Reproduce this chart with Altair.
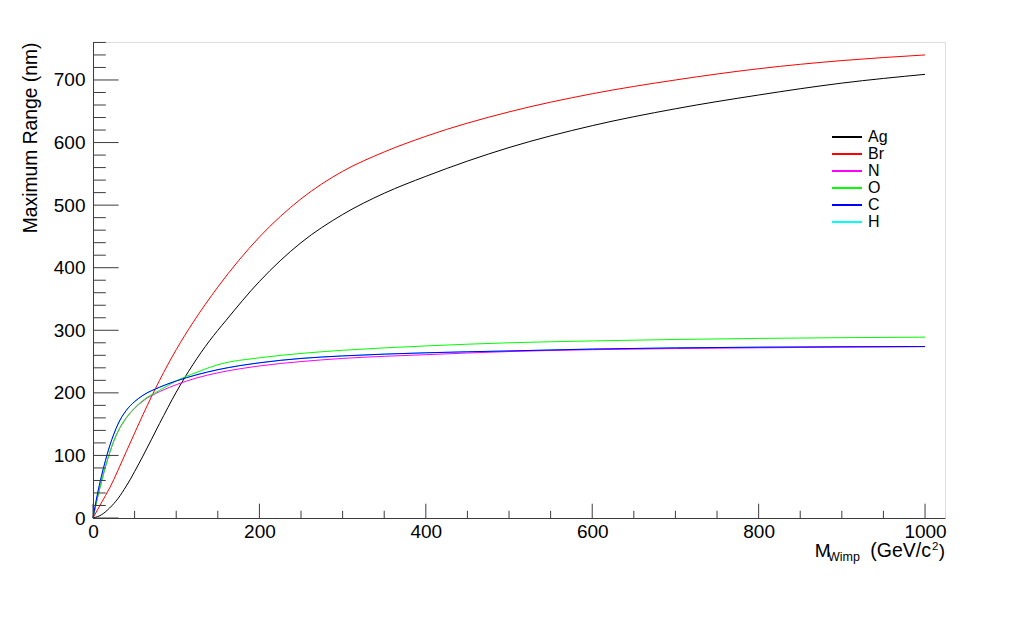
import altair as alt
import pandas as pd

FONT = "Liberation Sans"
series = ["Ag", "Br", "N", "O", "C", "H"]
colors = ["#000000", "#ff0000", "#ff00ff", "#00ff00", "#0000ff", "#00ffff"]

ag_x = [0, 10, 20, 30, 40, 60, 80, 100, 120, 140, 160, 200, 250, 300, 350, 400, 500, 600, 700, 800, 900, 1000]
ag_y = [0, 5, 16, 31, 51, 99, 151, 201, 245, 283, 316, 378, 440, 485, 519, 546, 592, 627, 654, 676, 695, 709]

br_x = [0, 10, 20, 40, 60, 80, 100, 120, 150, 200, 250, 300, 350, 400, 500, 600, 700, 800, 900, 1000]
br_y = [0, 24, 48, 106, 165, 220, 269, 312, 369, 449, 510, 554, 585, 610, 649, 678, 700, 718, 731, 740]

c_x = [0, 5, 10, 15, 20, 25, 30, 40, 50, 60, 80, 100, 125, 150, 200, 250, 300, 400, 500, 600, 800, 1000]
c_y = [0, 36, 66, 92, 115, 134, 150, 172, 186, 196, 209, 219, 229, 237, 248, 255, 259, 264, 267, 270, 273, 274]

o_x = [0, 5, 10, 15, 20, 25, 30, 40, 50, 60, 80, 100, 125, 150, 200, 250, 300, 400, 500, 600, 800, 1000]
o_y = [0, 30, 57, 82, 104, 123, 138, 160, 176, 188, 204, 219, 233, 245, 256, 263, 268, 275, 280, 283, 287, 289]

n_x = [0, 5, 10, 15, 20, 25, 30, 40, 50, 60, 80, 100, 125, 150, 200, 250, 300, 400, 500, 600, 800, 1000]
n_y = [0, 30, 57, 82, 104, 123, 138, 160, 175, 187, 202, 213, 224, 232, 243, 250, 255, 261, 266, 269, 272, 274]

h_x = [0, 5, 10, 15, 20, 25, 30, 40, 50, 60, 80, 100, 125, 150, 200, 250, 300, 400, 500, 600, 800, 1000]
h_y = [0, 36, 66, 92, 115, 134, 150, 172, 186, 196, 209, 219, 229, 237, 248, 255, 259, 264, 267, 270, 273, 274]

x_labels = [0, 200, 400, 600, 800, 1000]
x_minor = [50, 100, 150, 250, 300, 350, 450, 500, 550, 650, 700, 750, 850, 900, 950]
y_labels = [0, 100, 200, 300, 400, 500, 600, 700]
y_minor = [20, 40, 60, 80, 120, 140, 160, 180, 220, 240, 260, 280, 320, 340, 360, 380,
           420, 440, 460, 480, 520, 540, 560, 580, 620, 640, 660, 680, 720, 740, 760]

X_DOM = [0, 1024]
Y_DOM = [0, 760.7]
W, H = 852, 476
AX = "#3c3c3c"

rows = []
for name, xs, ys in [("Ag", ag_x, ag_y), ("Br", br_x, br_y), ("N", n_x, n_y),
                     ("O", o_x, o_y), ("C", c_x, c_y), ("H", h_x, h_y)]:
    for xv, yv in zip(xs, ys):
        rows.append({"name": name, "x": xv, "y": yv})
df = pd.DataFrame(rows)

xscale = alt.Scale(domain=X_DOM, nice=False, zero=False)
yscale = alt.Scale(domain=Y_DOM, nice=False, zero=False)
cscale = alt.Scale(domain=series, range=colors)

xaxis = alt.Axis(values=x_labels, ticks=False, tickSize=0, grid=False, domainColor=AX,
                 labelFont=FONT, labelFontSize=19, labelColor="black", labelPadding=4,
                 labelFlush=False, labelOverlap=False, title=None, format="d")
yaxis = alt.Axis(values=y_labels, ticks=False, tickSize=0, grid=False, domainColor=AX,
                 labelFont=FONT, labelFontSize=19, labelColor="black", labelPadding=8,
                 labelFlush=False, labelOverlap=False, format="d",
                 title="Maximum Range (nm)", titleFont=FONT, titleFontSize=19.3,
                 titleFontWeight="normal", titleColor="black", titleX=-72, titleY=0,
                 titleAlign="right", titleBaseline="top", titleAngle=270)

base = alt.Chart(df)
line_layers = []
for s in ["H", "Ag", "Br", "N", "O", "C"]:
    line_layers.append(
        base.transform_filter(alt.datum.name == s).mark_line(strokeWidth=1, interpolate="monotone").encode(
            x=alt.X("x:Q", scale=xscale, axis=xaxis),
            y=alt.Y("y:Q", scale=yscale, axis=yaxis),
            color=alt.Color("name:N", scale=cscale, legend=None),
        )
    )

def xticks(vals, length):
    return alt.Chart(pd.DataFrame({"v": vals})).mark_rule(color=AX, strokeWidth=1).encode(
        x=alt.X("v:Q", scale=xscale, axis=xaxis),
        y=alt.value(H), y2=alt.value(H - length))

def yticks(vals, length):
    return alt.Chart(pd.DataFrame({"v": vals})).mark_rule(color=AX, strokeWidth=1).encode(
        y=alt.Y("v:Q", scale=yscale, axis=yaxis),
        x=alt.value(0), x2=alt.value(length))

tick_layers = [xticks(x_labels, 14.3), xticks(x_minor, 7.2),
               yticks(y_labels, 25.6), yticks(y_minor, 12.8)]

main = alt.layer(*line_layers, *tick_layers)

leg_df = pd.DataFrame({"name": series, "row": list(range(len(series)))})
lscale = alt.Scale(domain=[0, len(series) - 1], range=[95, 180], nice=False, zero=False)
leg_lines = alt.Chart(leg_df).mark_rule(strokeWidth=2).encode(
    y=alt.Y("row:Q", scale=lscale, axis=None),
    x=alt.value(739), x2=alt.value(769),
    color=alt.Color("name:N", scale=cscale, legend=None))
leg_text = alt.Chart(leg_df).mark_text(align="left", baseline="middle", font=FONT,
                                       fontSize=16, color="black").encode(
    y=alt.Y("row:Q", scale=lscale, axis=None),
    x=alt.value(775), text="name:N")
legend = alt.layer(leg_lines, leg_text)

def piece(txt, xr, yb, size):
    return alt.Chart(pd.DataFrame({"t": [txt]})).mark_text(
        align="right", baseline="alphabetic", font=FONT, fontSize=size, color="black").encode(
        x=alt.value(xr), y=alt.value(yb), text="t:N")

xtitle = alt.layer(
    piece("M", 737.5, 515, 19),
    piece("Wimp", 767, 519, 12.5),
    piece("(GeV/c", 838, 515, 19.5),
    piece("2", 845.5, 507.5, 11.5),
    piece(")", 852, 515, 19),
)

chart = alt.layer(main, legend, xtitle).resolve_scale(y="independent").properties(
    width=W, height=H,
    autosize=alt.AutoSizeParams(type="none"),
    padding={"left": 85, "top": 34, "right": 70, "bottom": 90},
).configure_view(stroke=AX, strokeWidth=1).configure(background="white")

chart.save("out.html", embed_options={"renderer": "svg", "actions": False})
